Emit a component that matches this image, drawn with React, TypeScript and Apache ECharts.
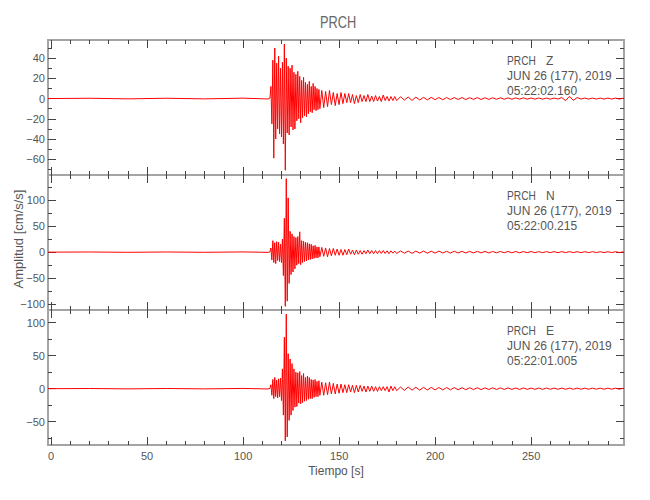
import React, { useEffect, useRef } from "react";
import * as echarts from "echarts";

// Sample times [s]
const tiempo = [
  -1.6, 20, 40, 60, 80, 100, 113, 114,
  114.5, 115, 115.5, 116, 116.5, 117, 117.5, 118, 118.5, 119,
  119.5, 120, 120.5, 121, 121.5, 122, 122.5, 123, 123.5, 124,
  124.5, 125, 125.5, 126, 126.5, 127, 127.5, 128, 128.5, 129,
  129.5, 130, 130.5, 131, 131.5, 132, 132.5, 133, 133.5, 134,
  134.5, 135, 135.5, 136, 136.5, 137, 137.5, 138, 138.5, 139,
  139.5, 140,
  141, 142, 143, 144, 145, 146, 147, 148, 149, 150,
  151, 152, 153, 154, 155, 156, 157, 158, 159, 160,
  161, 162, 163, 164, 165, 166, 167, 168, 169, 170,
  171, 172, 173, 174, 175, 176, 177, 178, 179, 180,
  182, 184, 186, 188, 190, 192, 194, 196, 198, 200,
  202, 204, 206, 208, 210, 212, 214, 216, 218, 220,
  222, 224, 226, 228, 230, 232, 234, 236, 238, 240,
  242, 244, 246, 248, 250, 252, 254, 256, 258, 260,
  262, 264, 266, 268, 270, 272, 274, 276, 278, 280,
  282, 284, 286, 288, 290, 292, 294, 296, 298,
];

// Component Z [cm/s/s]
const ampZ = [
  0, 0.3, -0.3, 0.3, -0.3, 0.4, -0.4, 0.5,
  12, -25, 38, -59, 50, -40, 35, -30, 42, -35,
  30, -38, 36, -45, 54, -71, 40, -34, 32, -36,
  30, -28, 33, -31, 26, -30, 24, -22, 27, -20,
  22, -24, 18, -19, 21, -17, 16, -18, 14, -15,
  17, -13, 12, -14, 15, -11, 12, -12, 10, -11,
  9, -10,
  8, -9, 7, -8, 8, -6, 6, -7, 5, -6,
  6, -5, 5, -4, 5, -4, 4, -5, 3, -4,
  4, -3, 3, -3, 4, -3, 2.5, -3, 3, -2.5,
  2, -3, 3.5, -2, 2, -2.5, 2, -2, 2, -2,
  1.8, -1.5, 1.5, -1.8, 1.4, -1.4, 1.2, -1.3, 1.2, -1.1,
  1, -1.2, 1, -1, 1, -0.9, 1, -1, 0.9, -0.8,
  0.9, -0.9, 0.8, -0.8, 0.8, -0.7, 0.8, -0.7, 0.7, -0.7,
  0.7, -0.6, 0.7, -0.6, 0.6, -0.6, 0.6, -0.6, 0.5, -0.6,
  0.5, -0.5, 1, -2, 2.2, -1.8, 1, -0.5, 0.5, -0.5,
  0.5, -0.5, 0.5, -0.5, 0.5, -0.5, 0.5, -0.5, 0.4,
];

// Component N [cm/s/s]
const ampN = [
  0, 0.3, -0.3, 0.3, -0.3, 0.4, -0.4, 0.5,
  8, -15, 22, -20, 18, -22, 20, -16, 19, -18,
  15, -20, 25, -45, 65, -104, 141, -94, 104, -60,
  40, -43, 35, -38, 30, -32, 28, -25, 30, -22,
  39, -24, 22, -20, 21, -18, 19, -17, 18, -15,
  16, -14, 15, -13, 12, -12, 13, -11, 10, -11,
  10, -9,
  9, -8, 8, -9, 7, -7, 7, -6, 6, -6,
  5, -6, 5, -5, 6, -4, 4, -5, 4, -4,
  3, -4, 3, -3, 4, -3, 3, -3, 3, -3,
  3, -2.5, 3, -2.5, 2.5, -3, 2.5, -2, 2, -2.5,
  2.2, -2, 2, -2.3, 2, -1.8, 2, -2, 1.8, -1.8,
  2, -1.7, 1.6, -1.8, 1.7, -1.6, 1.5, -1.6, 1.5, -1.5,
  1.5, -1.4, 1.4, -1.5, 1.3, -1.4, 1.3, -1.2, 1.3, -1.2,
  1.2, -1.2, 1.1, -1.1, 1.2, -1.1, 1, -1.1, 1, -1,
  1, -1, 1, -1, 1, -0.9, 0.9, -0.9, 0.9, -0.9,
  0.9, -0.8, 0.8, -0.8, 0.8, -0.8, 0.8, -0.8, 0.7,
];

// Component E [cm/s/s]
const ampE = [
  0, 0.3, -0.3, 0.3, -0.3, 0.4, -0.4, 0.5,
  6, -10, 14, -15, 17, -12, 13, -14, 15, -12,
  16, -18, 30, -40, 78, -79, 113, -73, 53, -48,
  45, -40, 38, -33, 30, -28, 25, -27, 24, -22,
  26, -23, 20, -21, 23, -19, 17, -18, 19, -16,
  17, -15, 14, -15, 13, -13, 14, -12, 11, -12,
  12, -10,
  10, -10, 9, -9, 10, -8, 8, -8, 7, -7,
  7, -6, 6, -6, 6, -5, 5, -6, 5, -5,
  5, -4, 4, -5, 4, -4, 4, -4, 3, -4,
  3, -3, 3, -3, 3, -5, 4, -3, 3, -3,
  2.5, -2.5, 2.5, -2.2, 2.2, -2.2, 2, -2, 2, -1.8,
  1.8, -1.8, 1.7, -1.7, 1.6, -1.6, 1.5, -1.5, 1.5, -1.4,
  1.4, -1.4, 1.3, -1.3, 1.3, -1.2, 1.2, -1.2, 1.2, -1.1,
  1.1, -1.1, 1.1, -1, 1, -1, 1, -1, 1, -0.9,
  0.9, -0.9, 0.9, -0.9, 0.9, -0.9, 0.9, -0.8, 0.8, -0.8,
  0.8, -0.8, 0.8, -0.8, 0.8, -0.8, 0.8, -0.8, 0.7,
];

// Ticks
const xMajorTicks = [0, 50, 100, 150, 200, 250];
const xMinorTicks = [10, 20, 30, 40, 60, 70, 80, 90, 110, 120, 130, 140, 160, 170, 180, 190, 210, 220, 230, 240, 260, 270, 280, 290];
const zMajorTicks = [-60, -40, -20, 0, 20, 40];
const zMinorTicks = [-70, -50, -30, -10, 10, 30, 50];
const nMajorTicks = [-100, -50, 0, 50, 100];
const nMinorTicks = [-75, -25, 25, 75, 125];
const eMajorTicks = [-50, 0, 50, 100];
const eMinorTicks = [-75, -25, 25, 75];

const componentNames = ["Z", "N", "E"];
const startTimes = ["05:22:02.160", "05:22:00.215", "05:22:01.005"];
const stationName = "PRCH";
const dateLabel = "JUN 26 (177), 2019";

const FONT = "'Liberation Sans', Arial, sans-serif";
const TEXT = "#555";
const FRAME = "#a4a4a4";
const TICK = "#444";
const X_MIN = -1.6;
const X_MAX = 298.4;
const GRID_LEFT = 48;
const GRID_W = 576;
const GRID_H = 135;
const GRID_TOPS = [40, 175, 310];

const fmt = (v: number) => (v < 0 ? "\u2212" + Math.abs(v) : String(v));

export default function App() {
  const ref = useRef<HTMLDivElement>(null);

  useEffect(() => {
    if (!ref.current) return;
    const chart = echarts.init(ref.current, undefined, { renderer: "svg" });

    const traces = [ampZ, ampN, ampE];
    const yRanges = [
      [-75.7, 58],
      [-111, 148],
      [-85.3, 119.2],
    ];
    const yMajors = [zMajorTicks, nMajorTicks, eMajorTicks];
    const yMinors = [zMinorTicks, nMinorTicks, eMinorTicks];

    const grid = GRID_TOPS.map((top) => ({
      left: GRID_LEFT,
      top,
      width: GRID_W,
      height: GRID_H,
      show: true,
      borderColor: FRAME,
      borderWidth: 2,
      backgroundColor: "transparent",
    }));

    const xAxis: any[] = [];
    const yAxis: any[] = [];
    const mkX = (g: number, position: string, ticks: number[], len: number, labels: boolean) => ({
      type: "value",
      gridIndex: g,
      position,
      min: X_MIN,
      max: X_MAX,
      axisLine: { show: false, onZero: false },
      splitLine: { show: false },
      axisTick: { show: true, inside: true, length: len, customValues: ticks, lineStyle: { color: TICK, width: 1 } },
      axisLabel: labels
        ? { show: true, customValues: xMajorTicks, margin: 5, color: TEXT, fontSize: 11, fontFamily: FONT, formatter: fmt }
        : { show: false },
    });
    const mkY = (g: number, position: string, ticks: number[], len: number, labels: boolean) => ({
      type: "value",
      gridIndex: g,
      position,
      min: yRanges[g][0],
      max: yRanges[g][1],
      axisLine: { show: false, onZero: false },
      splitLine: { show: false },
      axisTick: { show: true, inside: true, length: len, customValues: ticks, lineStyle: { color: TICK, width: 1 } },
      axisLabel: labels
        ? { show: true, customValues: yMajors[g], margin: 3, color: TEXT, fontSize: 11, fontFamily: FONT, formatter: fmt }
        : { show: false },
    });

    for (let g = 0; g < 3; g++) {
      xAxis.push(mkX(g, "bottom", xMajorTicks, 8, g === 2));
      xAxis.push(mkX(g, "bottom", xMinorTicks, 4, false));
      xAxis.push(mkX(g, "top", xMajorTicks, 8, false));
      xAxis.push(mkX(g, "top", xMinorTicks, 4, false));
      yAxis.push(mkY(g, "left", yMajors[g], 8, true));
      yAxis.push(mkY(g, "left", yMinors[g], 4, false));
      yAxis.push(mkY(g, "right", yMajors[g], 8, false));
      yAxis.push(mkY(g, "right", yMinors[g], 4, false));
    }

    const series = traces.map((vals, g) => ({
      type: "line",
      xAxisIndex: g * 4,
      yAxisIndex: g * 4,
      data: tiempo.map((t, i) => [t, vals[i]]),
      showSymbol: false,
      symbol: "none",
      clip: true,
      lineStyle: { color: "#ff0000", width: 1 },
      silent: true,
    }));

    const graphic: any[] = [
      {
        type: "text",
        x: 338,
        y: 22,
        scaleX: 0.8,
        style: { text: stationName, fill: "#666", font: `16px ${FONT}`, textAlign: "center", textVerticalAlign: "middle" },
      },
      {
        type: "text",
        x: 336,
        y: 471,
        style: { text: "Tiempo [s]", fill: TEXT, font: `12px ${FONT}`, textAlign: "center", textVerticalAlign: "middle" },
      },
      {
        type: "text",
        x: 18,
        y: 239,
        rotation: Math.PI / 2,
        style: { text: "Amplitud [cm/s/s]", fill: TEXT, font: `13px ${FONT}`, textAlign: "center", textVerticalAlign: "middle" },
      },
    ];
    GRID_TOPS.forEach((top, g) => {
      const lines = [
        { x: 507, y: top + 21, text: stationName, sx: 0.85 },
        { x: 546, y: top + 21, text: componentNames[g], sx: 1 },
        { x: 507, y: top + 36, text: dateLabel, sx: 1 },
        { x: 507, y: top + 51, text: startTimes[g], sx: 1 },
      ];
      lines.forEach((l) =>
        graphic.push({
          type: "text",
          x: l.x,
          y: l.y,
          scaleX: l.sx,
          style: { text: l.text, fill: TEXT, font: `12px ${FONT}`, textAlign: "left", textVerticalAlign: "middle" },
        })
      );
    });

    chart.setOption({
      animation: false,
      backgroundColor: "#ffffff",
      grid,
      xAxis,
      yAxis,
      series,
      graphic,
    });

    return () => chart.dispose();
  }, []);

  return <div ref={ref} style={{ position: "absolute", left: 0, top: 0, width: 650, height: 500 }} />;
}
